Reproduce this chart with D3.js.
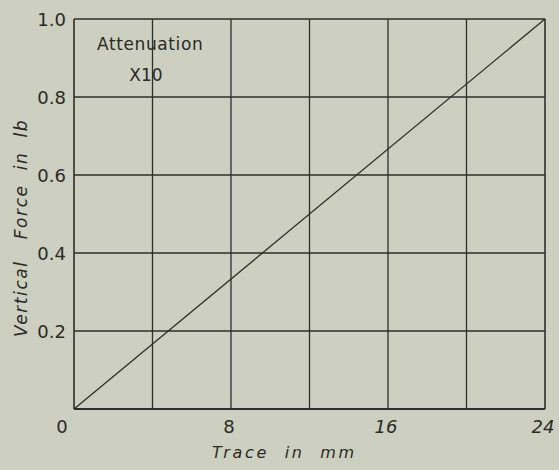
<!DOCTYPE html>
<html>
<head>
<meta charset="utf-8">
<script src="https://cdn.jsdelivr.net/npm/d3@7"></script>
<style>
  body { margin: 0; background: #cdcfc0; }
  svg { display: block; }
  text { font-family: "DejaVu Sans", sans-serif; fill: #2a2a26; }
</style>
</head>
<body>
<svg width="559" height="470"></svg>
<script>
// Calibration line: trace (mm) vs vertical force (lb)
const traceMm = [0, 24];
const forceLb = [0, 1.0];

// Tick values and labels
const xGrid = [0, 4, 8, 12, 16, 20, 24];
const xLabels = [0, 8, 16, 24];
const yGrid = [0, 0.2, 0.4, 0.6, 0.8, 1.0];
const yLabels = ["0", "0.2", "0.4", "0.6", "0.8", "1.0"];

const margin = { top: 19, right: 14, bottom: 61, left: 74 };
const width = 559, height = 470;

const svg = d3.select("svg");
const ink = "#2e2e2a";

const x = d3.scaleLinear().domain([0, 24]).range([margin.left, width - margin.right]);
const y = d3.scaleLinear().domain([0, 1.0]).range([height - margin.bottom, margin.top]);

// grid
svg.append("g")
    .selectAll("line")
    .data(xGrid)
    .join("line")
    .attr("x1", d => x(d)).attr("x2", d => x(d))
    .attr("y1", y(0)).attr("y2", y(1))
    .attr("stroke", ink)
    .attr("stroke-width", d => (d === 0 || d === 24) ? 1.6 : 1.3);

svg.append("g")
    .selectAll("line")
    .data(yGrid)
    .join("line")
    .attr("x1", x(0)).attr("x2", x(24))
    .attr("y1", d => y(d)).attr("y2", d => y(d))
    .attr("stroke", ink)
    .attr("stroke-width", d => d === 0 ? 2 : 1.5);

// tick labels
svg.append("g")
    .selectAll("text")
    .data(yGrid.slice(1))
    .join("text")
    .attr("x", x(0) - 8)
    .attr("y", d => y(d) + 7)
    .attr("text-anchor", "end")
    .style("font-size", "18px")
    .text((d, i) => yLabels[i + 1]);

svg.append("text")
    .attr("x", x(0) - 12)
    .attr("y", y(0) + 24)
    .attr("text-anchor", "middle")
    .style("font-size", "18px")
    .text(yLabels[0]);

svg.append("g")
    .selectAll("text")
    .data(xLabels.slice(1))
    .join("text")
    .attr("x", d => x(d) - 2)
    .attr("y", y(0) + 24)
    .attr("text-anchor", "middle")
    .style("font-size", "18px")
    .style("font-style", d => d === 8 ? "normal" : "italic")
    .text(d => d);

// the data line
svg.append("path")
    .datum(d3.zip(traceMm, forceLb))
    .attr("fill", "none")
    .attr("stroke", ink)
    .attr("stroke-width", 1.3)
    .attr("d", d3.line().x(d => x(d[0])).y(d => y(d[1])));

// axis titles
svg.append("text")
    .attr("x", 212)
    .attr("y", 458)
    .style("font-size", "16px")
    .style("font-style", "italic")
    .style("letter-spacing", "2.7px")
    .attr("xml:space", "preserve")
    .text("Trace  in  mm");

svg.append("text")
    .attr("transform", "translate(27,228) rotate(-90)")
    .attr("text-anchor", "middle")
    .style("font-size", "17px")
    .style("font-style", "italic")
    .style("letter-spacing", "1.6px")
    .attr("xml:space", "preserve")
    .text("Vertical   Force  in  lb");

// annotation
svg.append("text")
    .attr("x", 97).attr("y", 50)
    .style("font-size", "17px")
    .style("letter-spacing", "0.6px")
    .text("Attenuation");
svg.append("text")
    .attr("x", 146).attr("y", 81)
    .attr("text-anchor", "middle")
    .style("font-size", "17px")
    .text("X10");
</script>
</body>
</html>
